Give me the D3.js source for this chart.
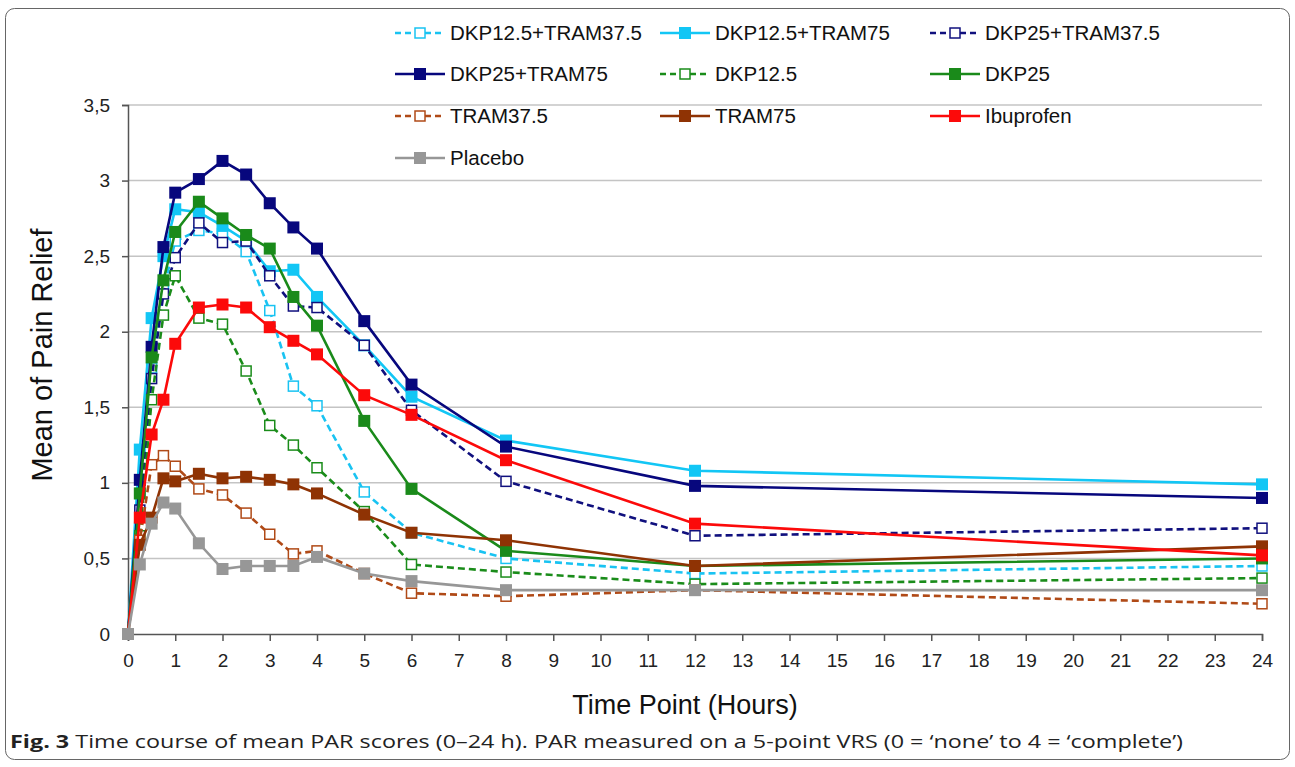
<!DOCTYPE html>
<html><head><meta charset="utf-8">
<script src="https://cdn.jsdelivr.net/npm/d3@7"></script>
<style>
body{margin:0;background:#fff;}
svg{display:block;font-family:Arial,"Liberation Sans",sans-serif;}
</style></head>
<body>
<svg id="c" width="1295" height="767"></svg>
<script>
const timePoints = [0,0.25,0.5,0.75,1,1.5,2,2.5,3,3.5,4,5,6,8,12,24];
const xTicks = d3.range(0,25);
const yTicks = [0,0.5,1,1.5,2,2.5,3,3.5];

const dkp125tram375 = [0,0.93,1.76,2.28,2.60,2.67,2.65,2.53,2.14,1.64,1.51,0.94,0.67,0.50,0.40,0.45];
const dkp125tram75  = [0,1.22,2.09,2.50,2.81,2.79,2.70,2.60,2.40,2.41,2.23,1.91,1.57,1.28,1.08,0.99];
const dkp25tram375  = [0,0.82,1.69,2.25,2.49,2.72,2.59,2.60,2.37,2.17,2.16,1.91,1.48,1.01,0.65,0.70];
const dkp25tram75   = [0,1.02,1.90,2.56,2.92,3.01,3.13,3.04,2.85,2.69,2.55,2.07,1.65,1.24,0.98,0.90];
const dkp125        = [0,0.65,1.55,2.11,2.37,2.09,2.05,1.74,1.38,1.25,1.10,0.81,0.46,0.41,0.33,0.37];
const dkp25         = [0,0.93,1.83,2.34,2.66,2.86,2.75,2.64,2.55,2.23,2.04,1.41,0.96,0.55,0.45,0.50];
const tram375       = [0,0.62,1.12,1.18,1.11,0.96,0.92,0.80,0.66,0.53,0.55,0.40,0.27,0.25,0.29,0.20];
const tram75        = [0,0.59,0.77,1.03,1.01,1.06,1.03,1.04,1.02,0.99,0.93,0.79,0.67,0.62,0.45,0.58];
const ibuprofen     = [0,0.77,1.32,1.55,1.92,2.16,2.18,2.16,2.03,1.94,1.85,1.58,1.45,1.15,0.73,0.52];
const placebo       = [0,0.46,0.73,0.87,0.83,0.60,0.43,0.45,0.45,0.45,0.51,0.40,0.35,0.29,0.29,0.29];

const seriesNames = ["DKP12.5+TRAM37.5","DKP12.5+TRAM75","DKP25+TRAM37.5","DKP25+TRAM75","DKP12.5","DKP25","TRAM37.5","TRAM75","Ibuprofen","Placebo"];
const seriesValues = [dkp125tram375,dkp125tram75,dkp25tram375,dkp25tram75,dkp125,dkp25,tram375,tram75,ibuprofen,placebo];
const seriesColors = ["#19c3f2","#12c6f5","#10107e","#07077d","#1a8c1a","#1a8a1a","#b04a17","#8f3304","#fc0a0a","#979797"];
const seriesDashed = [true,false,true,false,true,false,true,false,false,false];

const svg = d3.select("#c");
svg.append("rect").attr("x",5.5).attr("y",8.5).attr("width",1284).attr("height",751)
  .attr("rx",9).attr("fill","none").attr("stroke","#666").attr("stroke-width",1);

const x = d3.scaleLinear().domain([0,24]).range([128,1262]);
const y = d3.scaleLinear().domain([0,3.5]).range([634,105]);

svg.append("g").selectAll("line").data(yTicks.filter(d=>d>0)).join("line")
  .attr("x1",x(0)).attr("x2",x(24)).attr("y1",d=>y(d)).attr("y2",d=>y(d))
  .attr("stroke","#c4c4c4").attr("stroke-width",1.5);

const yAxis = svg.append("g").attr("transform",`translate(${x(0)},0)`)
  .call(d3.axisLeft(y).tickValues(yTicks).tickSize(6).tickPadding(12)
    .tickFormat(d=>String(d).replace(".",",")));
yAxis.select(".domain").attr("stroke","#555").attr("stroke-width",1.5);
yAxis.selectAll(".tick line").attr("stroke","#555").attr("stroke-width",1.5);
yAxis.selectAll("text").attr("font-size",19).attr("fill","#222")
  .attr("font-family","Arial,'Liberation Sans',sans-serif");

const xAxis = svg.append("g").attr("transform",`translate(0,${y(0)})`)
  .call(d3.axisBottom(x).tickValues(xTicks).tickSize(7).tickPadding(13).tickFormat(d3.format("d")));
xAxis.select(".domain").attr("stroke","#555").attr("stroke-width",1.5);
xAxis.selectAll(".tick line").attr("stroke","#555").attr("stroke-width",1.5);
xAxis.selectAll("text").attr("font-size",19).attr("fill","#222")
  .attr("font-family","'Liberation Sans Narrow','Arial Narrow',sans-serif");

svg.append("text").attr("x",685).attr("y",714).attr("text-anchor","middle")
  .attr("font-size",27).attr("fill","#111")
  .attr("font-family","'Liberation Sans Narrow','Arial Narrow',sans-serif")
  .text("Time Point (Hours)");
svg.append("text").attr("transform","translate(52,355) rotate(-90)").attr("text-anchor","middle")
  .attr("font-size",29).attr("fill","#111").text("Mean of Pain Relief");

const line = d3.line().x((d,i)=>x(timePoints[i])).y(d=>y(d));
seriesValues.forEach((vals,k)=>{
  const g = svg.append("g");
  g.append("path").datum(vals).attr("d",line).attr("fill","none")
    .attr("stroke",seriesColors[k]).attr("stroke-width",2.6)
    .attr("stroke-dasharray",seriesDashed[k]?"7,4":null);
  const s = seriesDashed[k]?10:12;
  g.selectAll("rect").data(vals).join("rect")
    .attr("x",(d,i)=>x(timePoints[i])-s/2).attr("y",d=>y(d)-s/2)
    .attr("width",s).attr("height",s)
    .attr("fill",seriesDashed[k]?"#fff":seriesColors[k])
    .attr("stroke",seriesColors[k]).attr("stroke-width",seriesDashed[k]?1.5:0);
});

const colX = [395,660,930];
const rowY = [33,74,116,158];
seriesNames.forEach((name,k)=>{
  const cx = colX[k%3], cy = rowY[Math.floor(k/3)];
  const g = svg.append("g");
  g.append("line").attr("x1",cx).attr("x2",cx+50).attr("y1",cy).attr("y2",cy)
    .attr("stroke",seriesColors[k]).attr("stroke-width",2.6)
    .attr("stroke-dasharray",seriesDashed[k]?"6,4":null);
  const s = seriesDashed[k]?10:12;
  g.append("rect").attr("x",cx+25-s/2).attr("y",cy-s/2).attr("width",s).attr("height",s)
    .attr("fill",seriesDashed[k]?"#fff":seriesColors[k])
    .attr("stroke",seriesColors[k]).attr("stroke-width",seriesDashed[k]?1.5:0);
  g.append("text").attr("x",cx+55).attr("y",cy+7).attr("font-size",20.5).attr("fill","#111").text(name);
});

const cap = svg.append("text").attr("x",10).attr("y",748).attr("font-size",18).attr("fill","#222")
  .attr("font-family","'Open Sans','Liberation Sans',sans-serif")
  .attr("textLength",1173).attr("lengthAdjust","spacingAndGlyphs");
cap.append("tspan").attr("font-weight","bold").text("Fig. 3");
cap.append("tspan").text(" Time course of mean PAR scores (0–24 h). PAR measured on a 5-point VRS (0 = ‘none’ to 4 = ‘complete’)");
</script>
</body></html>
